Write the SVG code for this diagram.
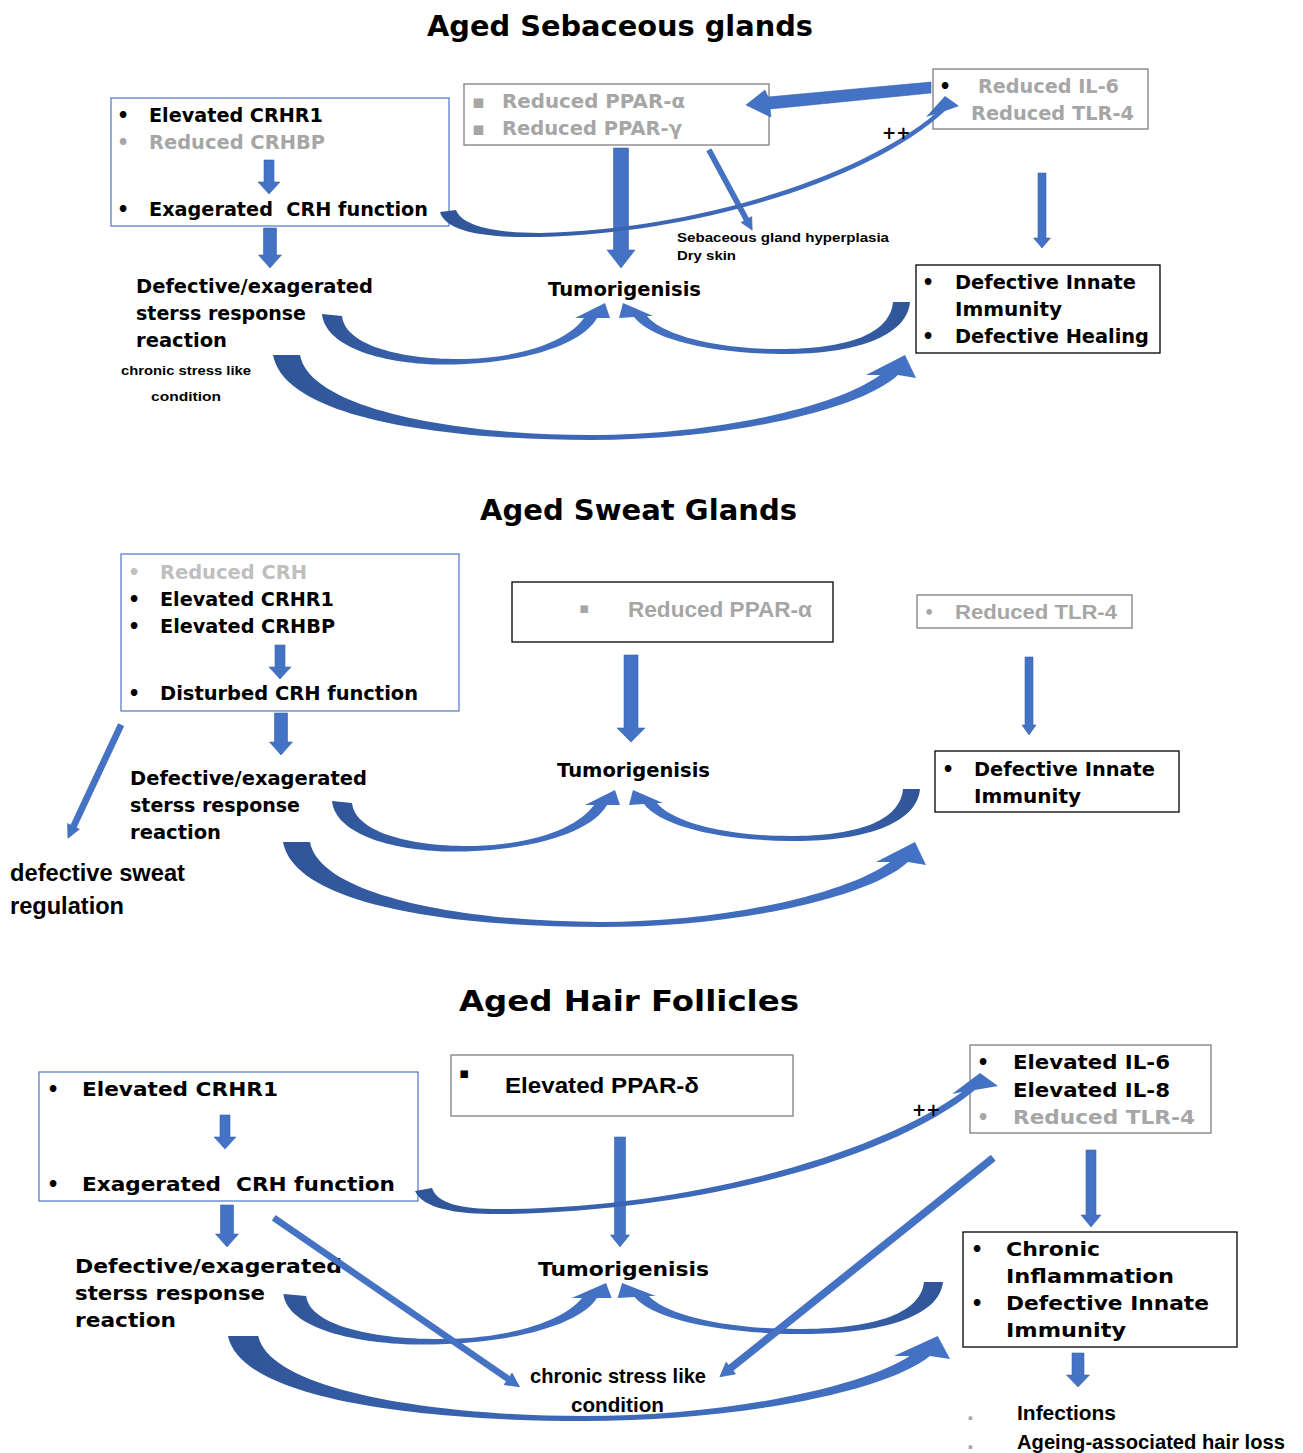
<svg xmlns="http://www.w3.org/2000/svg" xmlns:xlink="http://www.w3.org/1999/xlink" width="1303" height="1453" viewBox="0 0 1303 1453">
<style>
.v{font-family:"DejaVu Sans","Liberation Sans",sans-serif;font-weight:bold;}
.c{font-family:"Liberation Sans","DejaVu Sans",sans-serif;font-weight:bold;}
.t{font-size:29px;fill:#000;}
.b{font-size:19px;fill:#000;}
.g{fill:#A6A6A6;}
.lg{fill:#BFBFBF;}
.k{fill:#000;}
.pre{white-space:pre;}
.bb{fill:#fff;stroke:#4A76C6;stroke-width:1.2;}
.gb{fill:#fff;stroke:#7F7F7F;stroke-width:1.3;}
.kb{fill:#fff;stroke:#000;stroke-width:1.3;}
.ar{fill:#4472C4;stroke:#3A64B0;stroke-width:0.6;}
</style>
<defs>
<linearGradient id="gl" x1="0" y1="0" x2="1" y2="0">
<stop offset="0" stop-color="#2F5597"/><stop offset="0.4" stop-color="#3C66B4"/><stop offset="1" stop-color="#4472C4"/>
</linearGradient>
<linearGradient id="gr" x1="1" y1="0" x2="0" y2="0">
<stop offset="0" stop-color="#2F5597"/><stop offset="0.4" stop-color="#3C66B4"/><stop offset="1" stop-color="#4472C4"/>
</linearGradient>
<path id="arcL" fill="url(#gl)" d="M322,314 C326,352 400,368 465,364 C540,360 585,340 597,318 L610,318 L605,303 L575,318 L584,318 C570,338 530,357 465,359 C400,360 345,345 342,316 Z"/>
<path id="arcR" fill="url(#gr)" d="M910,302 C907,338 850,355 780,354 C705,353 650,338 634,317 L619,318 L623,303 L653,316 L647,316 C660,333 710,349 780,349 C845,349 890,335 893,302 Z"/>
<path id="arcB" fill="url(#gl)" d="M273,355 C285,420 450,440 590,440 C730,440 860,410 898,375 L916,378 L905,355 L866,375 L880,375 C840,405 720,435 590,435 C460,435 310,410 300,355 Z"/>
</defs>
<rect width="1303" height="1453" fill="#fff"/>

<!-- titles -->
<text class="v t" x="427" y="36" textLength="386" lengthAdjust="spacingAndGlyphs">Aged Sebaceous glands</text>
<text class="v t" x="480" y="520" textLength="317" lengthAdjust="spacingAndGlyphs">Aged Sweat Glands</text>
<text class="v t" x="459" y="1011" textLength="340" lengthAdjust="spacingAndGlyphs">Aged Hair Follicles</text>

<!-- ===== Section 1 nodes ===== -->
<g id="s1-crh">
<rect class="bb" x="111" y="98" width="338" height="128"/>
<text class="v b" x="117" y="122">•</text>
<text class="v b" x="149" y="122" textLength="174" lengthAdjust="spacingAndGlyphs">Elevated CRHR1</text>
<text class="v b g" x="117" y="149">•</text>
<text class="v b g" x="149" y="149" textLength="176" lengthAdjust="spacingAndGlyphs">Reduced CRHBP</text>
<path class="ar" transform="translate(269,160) rotate(90)" d="M0,-5 H22 V-11 L34,0 L22,11 V5 H0 Z"/>
<text class="v b" x="117" y="216">•</text>
<text class="v b pre" x="149" y="216" textLength="279" lengthAdjust="spacingAndGlyphs">Exagerated  CRH function</text>
</g>
<g id="s1-ppar">
<rect class="gb" x="464" y="84" width="305" height="61"/>
<text class="v b g" x="472" y="108" font-size="14">▪</text>
<text class="v b g" x="502" y="108" textLength="183" lengthAdjust="spacingAndGlyphs">Reduced PPAR-α</text>
<text class="v b g" x="472" y="135" font-size="14">▪</text>
<text class="v b g" x="502" y="135" textLength="180" lengthAdjust="spacingAndGlyphs">Reduced PPAR-γ</text>
</g>
<g id="s1-il6">
<rect class="gb" x="933" y="69" width="215" height="60"/>
<text class="v b" x="939" y="93">•</text>
<text class="v b g" x="978" y="93" textLength="141" lengthAdjust="spacingAndGlyphs">Reduced IL-6</text>
<text class="v b g" x="971" y="120" textLength="163" lengthAdjust="spacingAndGlyphs">Reduced TLR-4</text>
</g>
<g id="s1-immunity">
<rect class="kb" x="916" y="265" width="244" height="88"/>
<text class="v b" x="922" y="289">•</text>
<text class="v b" x="955" y="289" textLength="181" lengthAdjust="spacingAndGlyphs">Defective Innate</text>
<text class="v b" x="955" y="316" textLength="107" lengthAdjust="spacingAndGlyphs">Immunity</text>
<text class="v b" x="922" y="343">•</text>
<text class="v b" x="955" y="343" textLength="194" lengthAdjust="spacingAndGlyphs">Defective Healing</text>
</g>
<g id="s1-stress">
<text class="v b" x="136" y="293" textLength="237" lengthAdjust="spacingAndGlyphs">Defective/exagerated</text>
<text class="v b" x="136" y="320" textLength="170" lengthAdjust="spacingAndGlyphs">sterss response</text>
<text class="v b" x="136" y="347" textLength="91" lengthAdjust="spacingAndGlyphs">reaction</text>
<text class="c k" x="121" y="375" font-size="13" textLength="130" lengthAdjust="spacingAndGlyphs">chronic stress like</text>
<text class="c k" x="151" y="401" font-size="13" textLength="70" lengthAdjust="spacingAndGlyphs">condition</text>
</g>
<g id="s1-tumor"><text class="v b" x="548" y="296" textLength="153" lengthAdjust="spacingAndGlyphs">Tumorigenisis</text></g>
<g id="s1-hyper">
<text class="c k" x="677" y="242" font-size="13" textLength="212" lengthAdjust="spacingAndGlyphs">Sebaceous gland hyperplasia</text>
<text class="c k" x="677" y="260" font-size="13" textLength="59" lengthAdjust="spacingAndGlyphs">Dry skin</text>
</g>

<!-- ===== Section 2 nodes ===== -->
<g id="s2-crh">
<rect class="bb" x="121" y="554" width="338" height="157"/>
<text class="v b lg" x="128" y="579">•</text>
<text class="v b lg" x="160" y="579" textLength="147" lengthAdjust="spacingAndGlyphs">Reduced CRH</text>
<text class="v b" x="128" y="606">•</text>
<text class="v b" x="160" y="606" textLength="174" lengthAdjust="spacingAndGlyphs">Elevated CRHR1</text>
<text class="v b" x="128" y="633">•</text>
<text class="v b" x="160" y="633" textLength="175" lengthAdjust="spacingAndGlyphs">Elevated CRHBP</text>
<path class="ar" transform="translate(280,645) rotate(90)" d="M0,-5 H22 V-11 L34,0 L22,11 V5 H0 Z"/>
<text class="v b" x="128" y="700">•</text>
<text class="v b" x="160" y="700" textLength="258" lengthAdjust="spacingAndGlyphs">Disturbed CRH function</text>
</g>
<g id="s2-ppar">
<rect class="kb" x="512" y="582" width="321" height="60" stroke-width="2"/>
<text class="v g" x="579" y="613" font-size="15">▪</text>
<text class="c g" x="628" y="617" font-size="22" textLength="184" lengthAdjust="spacingAndGlyphs">Reduced PPAR-α</text>
</g>
<g id="s2-tlr">
<rect class="gb" x="917" y="595" width="215" height="33" stroke="#555"/>
<text class="v g" x="924" y="618" font-size="16">•</text>
<text class="c g" x="955" y="619" font-size="20" textLength="162" lengthAdjust="spacingAndGlyphs">Reduced TLR-4</text>
</g>
<g id="s2-immunity">
<rect class="kb" x="935" y="751" width="244" height="61"/>
<text class="v b" x="942" y="776">•</text>
<text class="v b" x="974" y="776" textLength="181" lengthAdjust="spacingAndGlyphs">Defective Innate</text>
<text class="v b" x="974" y="803" textLength="107" lengthAdjust="spacingAndGlyphs">Immunity</text>
</g>
<g id="s2-stress">
<text class="v b" x="130" y="785" textLength="237" lengthAdjust="spacingAndGlyphs">Defective/exagerated</text>
<text class="v b" x="130" y="812" textLength="170" lengthAdjust="spacingAndGlyphs">sterss response</text>
<text class="v b" x="130" y="839" textLength="91" lengthAdjust="spacingAndGlyphs">reaction</text>
</g>
<g id="s2-tumor"><text class="v b" x="557" y="777" textLength="153" lengthAdjust="spacingAndGlyphs">Tumorigenisis</text></g>
<g id="s2-sweat">
<text class="c k" x="10" y="881" font-size="23" textLength="175" lengthAdjust="spacingAndGlyphs">defective sweat</text>
<text class="c k" x="10" y="914" font-size="23" textLength="114" lengthAdjust="spacingAndGlyphs">regulation</text>
</g>

<!-- ===== Section 3 nodes ===== -->
<g id="s3-crh">
<rect class="bb" x="39" y="1072" width="379" height="129"/>
<text class="v b" x="47" y="1096">•</text>
<text class="v b" x="82" y="1096" textLength="196" lengthAdjust="spacingAndGlyphs">Elevated CRHR1</text>
<path class="ar" transform="translate(225,1115) rotate(90)" d="M0,-5 H22 V-11 L34,0 L22,11 V5 H0 Z"/>
<text class="v b" x="47" y="1191">•</text>
<text class="v b pre" x="82" y="1191" textLength="313" lengthAdjust="spacingAndGlyphs">Exagerated  CRH function</text>
</g>
<g id="s3-ppar">
<rect class="gb" x="451" y="1055" width="342" height="61" stroke="#444"/>
<text class="v k" x="459" y="1078" font-size="15">▪</text>
<text class="c k" x="505" y="1093" font-size="22" textLength="194" lengthAdjust="spacingAndGlyphs">Elevated PPAR-δ</text>
</g>
<g id="s3-il">
<rect class="gb" x="970" y="1045" width="241" height="88"/>
<text class="v b" x="977" y="1069">•</text>
<text class="v b" x="1013" y="1069" textLength="157" lengthAdjust="spacingAndGlyphs">Elevated IL-6</text>
<text class="v b" x="1013" y="1097" textLength="157" lengthAdjust="spacingAndGlyphs">Elevated IL-8</text>
<text class="v b g" x="977" y="1124">•</text>
<text class="v b g" x="1013" y="1124" textLength="182" lengthAdjust="spacingAndGlyphs">Reduced TLR-4</text>
</g>
<g id="s3-immunity">
<rect class="kb" x="963" y="1232" width="274" height="115"/>
<text class="v b" x="971" y="1256">•</text>
<text class="v b" x="1006" y="1256" textLength="94" lengthAdjust="spacingAndGlyphs">Chronic</text>
<text class="v b" x="1006" y="1283" textLength="168" lengthAdjust="spacingAndGlyphs">Inflammation</text>
<text class="v b" x="971" y="1310">•</text>
<text class="v b" x="1006" y="1310" textLength="203" lengthAdjust="spacingAndGlyphs">Defective Innate</text>
<text class="v b" x="1006" y="1337" textLength="120" lengthAdjust="spacingAndGlyphs">Immunity</text>
</g>
<g id="s3-outcomes">
<text class="v g" x="968" y="1420" font-size="7">▪</text>
<text class="c k" x="1017" y="1420" font-size="21" textLength="99" lengthAdjust="spacingAndGlyphs">Infections</text>
<text class="v g" x="968" y="1449" font-size="7">▪</text>
<text class="c k" x="1017" y="1449" font-size="21" textLength="268" lengthAdjust="spacingAndGlyphs">Ageing-associated hair loss</text>
</g>
<g id="s3-stress">
<text class="v b" x="75" y="1273" textLength="267" lengthAdjust="spacingAndGlyphs">Defective/exagerated</text>
<text class="v b" x="75" y="1300" textLength="190" lengthAdjust="spacingAndGlyphs">sterss response</text>
<text class="v b" x="75" y="1327" textLength="101" lengthAdjust="spacingAndGlyphs">reaction</text>
</g>
<g id="s3-tumor"><text class="v b" x="538" y="1276" textLength="171" lengthAdjust="spacingAndGlyphs">Tumorigenisis</text></g>

<!-- ===== connectors ===== -->
<g id="connectors">
<!-- section 1 -->
<path class="ar" transform="translate(270,228) rotate(90)" d="M0,-6.5 H27 V-11.5 L40,0 L27,11.5 V6.5 H0 Z"/>
<path class="ar" transform="translate(621,148) rotate(90)" d="M0,-7.5 H102 V-14 L120,0 L102,14 V7.5 H0 Z"/>
<path class="ar" transform="translate(1042,173) rotate(90)" d="M0,-4 H65 V-8.5 L75,0 L65,8.5 V4 H0 Z"/>
<path class="ar" transform="translate(709,150) rotate(61.7)" d="M0,-2.5 H79 V-6 L91,0 L79,6 V2.5 H0 Z"/>
<path class="ar" d="M931,82 L768,97 L765,90 L746,105 L771,117 L770,109 L931,93 Z"/>
<path fill="url(#gl)" d="M440,212 C446,233 490,238 540,237 C700,233 870,180 945,111 L959,106 L945,96 L926,117 L935,114 C860,176 700,229 540,233 C495,233 462,226 456,210 Z"/>
<text class="v k" x="882" y="139" font-size="17">++</text>
<use xlink:href="#arcL"/>
<use xlink:href="#arcR"/>
<use xlink:href="#arcB"/>
<!-- section 2 -->
<path class="ar" transform="translate(281,713) rotate(90)" d="M0,-6.5 H29 V-11.5 L42,0 L29,11.5 V6.5 H0 Z"/>
<path class="ar" transform="translate(631,655) rotate(90)" d="M0,-7 H73 V-14 L87,0 L73,14 V7 H0 Z"/>
<path class="ar" transform="translate(1029,657) rotate(90)" d="M0,-4 H68 V-7 L78,0 L68,7 V4 H0 Z"/>
<path class="ar" transform="translate(121,725) rotate(115.1)" d="M0,-3 H112 V-6.5 L125,0 L112,6.5 V3 H0 Z"/>
<use xlink:href="#arcL" transform="translate(10,487)"/>
<use xlink:href="#arcR" transform="translate(10,487)"/>
<use xlink:href="#arcB" transform="translate(10,487)"/>
<!-- section 3 -->
<path class="ar" transform="translate(227,1205) rotate(90)" d="M0,-6.5 H29 V-11.5 L42,0 L29,11.5 V6.5 H0 Z"/>
<path class="ar" transform="translate(620,1137) rotate(90)" d="M0,-5.5 H98 V-9.5 L110,0 L98,9.5 V5.5 H0 Z"/>
<path class="ar" transform="translate(1091,1150) rotate(90)" d="M0,-5 H65 V-10 L77,0 L65,10 V5 H0 Z"/>
<path class="ar" transform="translate(1078,1353) rotate(90)" d="M0,-6 H22 V-11.5 L34,0 L22,11.5 V6 H0 Z"/>
<use xlink:href="#arcL" transform="translate(-83.7,980) scale(1.14,1)"/>
<use xlink:href="#arcR" transform="translate(-74.4,980) scale(1.118,1)"/>
<use xlink:href="#arcB" transform="translate(-78.6,981) scale(1.123,1)"/>
<path class="ar" transform="translate(274,1218) rotate(34.5)" d="M0,-3 H284 V-7 L298,0 L284,7 V3 H0 Z"/>
<path class="ar" transform="translate(993,1158) rotate(141.3)" d="M0,-3.5 H336 V-7.5 L350,0 L336,7.5 V3.5 H0 Z"/>
<path fill="url(#gl)" d="M415,1191 C424,1210 460,1215 510,1214 C700,1210 890,1160 975,1090 L998,1086 L980,1073 L952,1094 L962,1092 C880,1152 700,1206 510,1209 C465,1210 438,1205 432,1188 Z"/>
<text class="v k" x="912" y="1116" font-size="17">++</text>
</g>
<g id="s3-chronic">
<text class="c k" x="530" y="1383" font-size="21" textLength="176" lengthAdjust="spacingAndGlyphs">chronic stress like</text>
<text class="c k" x="571" y="1412" font-size="21" textLength="93" lengthAdjust="spacingAndGlyphs">condition</text>
</g>
</svg>
